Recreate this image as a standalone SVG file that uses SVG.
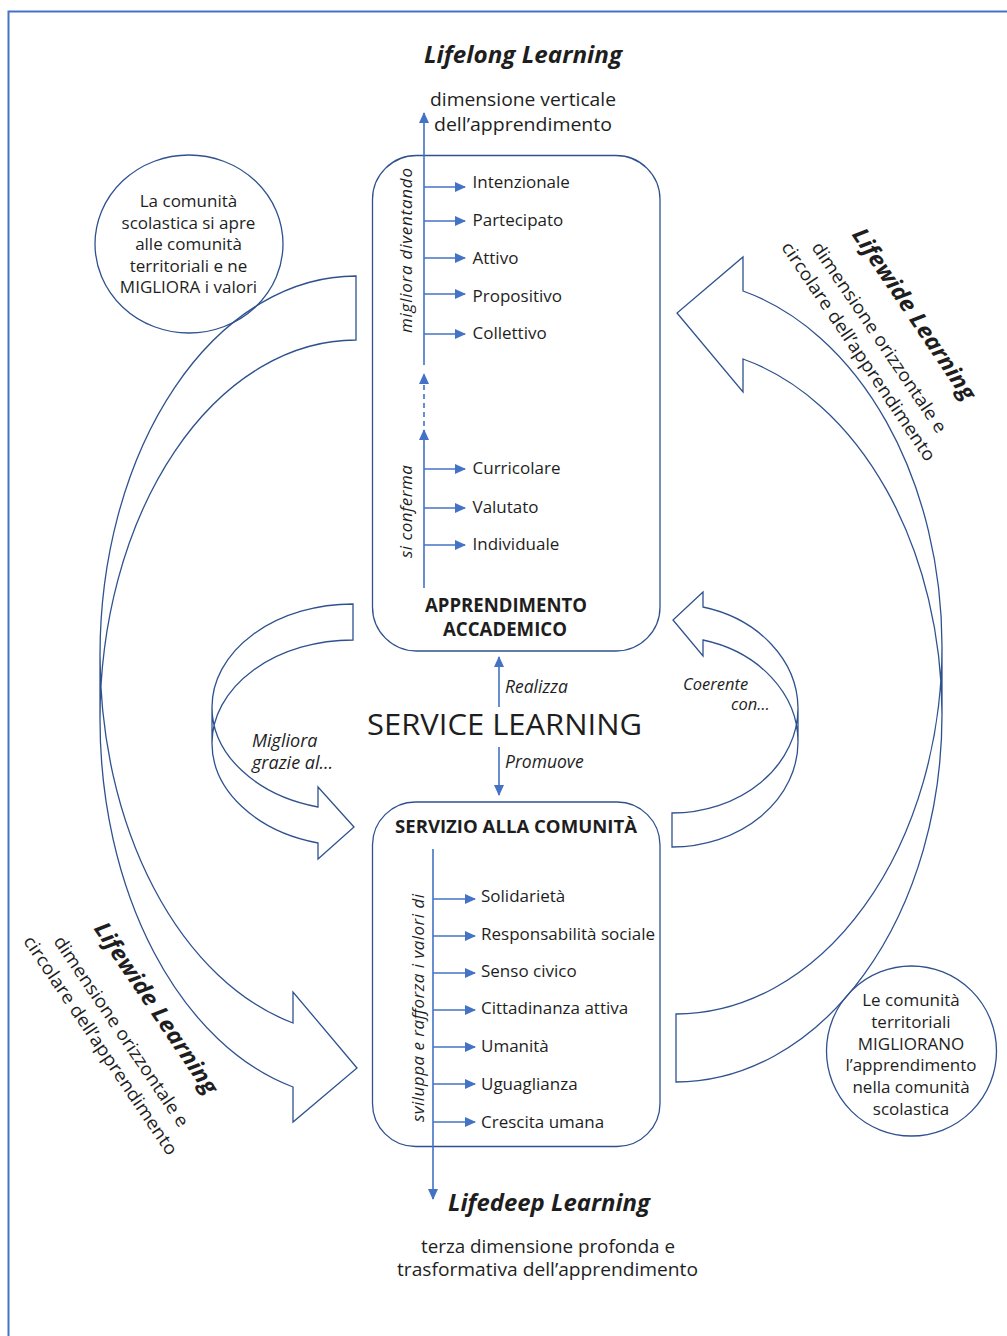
<svg xmlns="http://www.w3.org/2000/svg" width="1007" height="1336" viewBox="0 0 1007 1336">
<defs>
<style>
.t{font-family:"Open Sans","Liberation Sans",sans-serif;fill:#1e1e1e}
.it{font-style:italic}
.b{font-weight:bold}
.shape{fill:none;stroke:#2F528F;stroke-width:1.3}
.conn{fill:none;stroke:#4472C4;stroke-width:1.6}
.item{font-size:17px}
.ctr{text-anchor:middle}
</style>
<marker id="ah" markerWidth="12" markerHeight="10" refX="10" refY="5" orient="auto" markerUnits="userSpaceOnUse">
<path d="M0,0 L11,5 L0,10 z" fill="#4472C4"/>
</marker>
</defs>
<rect width="1007" height="1336" fill="#ffffff"/>
<rect id="frame" x="8.5" y="11.5" width="1010" height="1340" fill="none" stroke="#4472C4" stroke-width="2"/>

<g id="arrow-lifewide-left">
<path class="shape" d="M100,655.3 A256,379.3 0 0 0 293,1023 L293,992 L357,1068 L293,1122 L293,1087 A256,379.3 0 0 1 100,719.3 L100,655.3 A256,379.3 0 0 1 356,276 L356,340 A256,379.3 0 0 0 100,719.3"/>
</g>
<g id="arrow-lifewide-right">
<path class="shape" d="M942,714.6 A266,367.4 0 0 0 743,359 L743,392 L677,313 L743,257 L743,291 A266,367.4 0 0 1 942,646.6 L942,714.6 A266,367.4 0 0 1 676,1082 L676,1014 A266,367.4 0 0 0 942,646.6"/>
</g>
<g id="arrow-migliora">
<path class="shape" d="M212,707.1 A141,103.1 0 0 0 318,807 L318,787 L354,827 L318,859 L318,843 A141,103.1 0 0 1 212,743.1 L212,707.1 A141,103.1 0 0 1 353,604 L353,640 A141,103.1 0 0 0 212,743.1"/>
<text class="t it" font-size="18" x="252" y="747">Migliora</text>
<text class="t it" font-size="18" x="252" y="769">grazie al…</text>
</g>
<g id="arrow-coerente">
<path class="shape" d="M798,741.9 A126,105.1 0 0 0 703,640 L703,656 L673,620 L703,592 L703,607 A126,105.1 0 0 1 798,707.9 L798,741.9 A126,105.1 0 0 1 672,847 L672,813 A126,105.1 0 0 0 798,707.9"/>
<text class="t it" font-size="16.5" x="683" y="690">Coerente</text>
<text class="t it" font-size="16.5" x="731" y="710">con…</text>
</g>

<g id="circle-scuola">
<ellipse class="shape" cx="189" cy="244" rx="94" ry="89"/>
<text class="t ctr" font-size="17" x="188.5" y="207">La comunità</text>
<text class="t ctr" font-size="17" x="188.5" y="228.5">scolastica si apre</text>
<text class="t ctr" font-size="17" x="188.5" y="250">alle comunità</text>
<text class="t ctr" font-size="17" x="188.5" y="271.5">territoriali e ne</text>
<text class="t ctr" font-size="17" x="188.5" y="293">MIGLIORA i valori</text>
</g>
<g id="circle-territorio">
<circle class="shape" cx="911.5" cy="1051" r="85"/>
<text class="t ctr" font-size="17" x="911" y="1005.5">Le comunità</text>
<text class="t ctr" font-size="17" x="911" y="1027.5">territoriali</text>
<text class="t ctr" font-size="17" x="911" y="1049.5">MIGLIORANO</text>
<text class="t ctr" font-size="17" x="911" y="1071">l’apprendimento</text>
<text class="t ctr" font-size="17" x="911" y="1092.5">nella comunità</text>
<text class="t ctr" font-size="17" x="911" y="1114.5">scolastica</text>
</g>

<g id="lifelong">
<text class="t it b ctr" font-size="22.5" x="523" y="63" textLength="198" lengthAdjust="spacingAndGlyphs">Lifelong Learning</text>
<text class="t ctr" font-size="19" x="523" y="106" textLength="186" lengthAdjust="spacingAndGlyphs">dimensione verticale</text>
<text class="t ctr" font-size="19" x="523" y="131" textLength="178" lengthAdjust="spacingAndGlyphs">dell’apprendimento</text>
</g>
<g id="lifewide-right" transform="translate(880,337) rotate(56)">
<text class="t it b ctr" font-size="22.5" x="0" y="-42" dominant-baseline="central" textLength="202" lengthAdjust="spacingAndGlyphs">Lifewide Learning</text>
<text class="t ctr" font-size="18" x="0" y="0" dominant-baseline="central" textLength="226" lengthAdjust="spacingAndGlyphs">dimensione orizzontale e</text>
<text class="t ctr" font-size="18" x="0" y="25" dominant-baseline="central" textLength="260" lengthAdjust="spacingAndGlyphs">circolare dell’apprendimento</text>
</g>
<g id="lifewide-left" transform="translate(122,1031) rotate(56)">
<text class="t it b ctr" font-size="22.5" x="0" y="-42" dominant-baseline="central" textLength="202" lengthAdjust="spacingAndGlyphs">Lifewide Learning</text>
<text class="t ctr" font-size="18" x="0" y="0" dominant-baseline="central" textLength="226" lengthAdjust="spacingAndGlyphs">dimensione orizzontale e</text>
<text class="t ctr" font-size="18" x="0" y="25" dominant-baseline="central" textLength="260" lengthAdjust="spacingAndGlyphs">circolare dell’apprendimento</text>
</g>

<g id="apprendimento">
<rect class="shape" x="372.5" y="155.5" width="287.5" height="495.5" rx="44" ry="44"/>
<text class="t it" font-size="17" transform="translate(412,250.5) rotate(-90)" text-anchor="middle" textLength="165" lengthAdjust="spacing">migliora diventando</text>
<text class="t it" font-size="17" transform="translate(412,511.5) rotate(-90)" text-anchor="middle" textLength="93" lengthAdjust="spacing">si conferma</text>
<text class="t item" x="472.5" y="188">Intenzionale</text>
<text class="t item" x="472.5" y="226">Partecipato</text>
<text class="t item" x="472.5" y="264">Attivo</text>
<text class="t item" x="472.5" y="301.5">Propositivo</text>
<text class="t item" x="472.5" y="339">Collettivo</text>
<text class="t item" x="472.5" y="474">Curricolare</text>
<text class="t item" x="472.5" y="512.5">Valutato</text>
<text class="t item" x="472.5" y="550">Individuale</text>
<text class="t b ctr" font-size="19" x="506" y="611.5" textLength="162" lengthAdjust="spacingAndGlyphs">APPRENDIMENTO</text>
<text class="t b ctr" font-size="19" x="505" y="636" textLength="124" lengthAdjust="spacingAndGlyphs">ACCADEMICO</text>
</g>

<g id="service-learning">
<text class="t" font-size="30" x="367" y="735" textLength="275" lengthAdjust="spacingAndGlyphs">SERVICE LEARNING</text>
<text class="t it" font-size="17.5" x="505" y="693">Realizza</text>
<text class="t it" font-size="17.5" x="505" y="768">Promuove</text>
</g>

<g id="servizio">
<rect class="shape" x="372.5" y="802" width="287.5" height="344.5" rx="43" ry="43"/>
<text class="t b" font-size="18" x="395" y="833" textLength="242" lengthAdjust="spacingAndGlyphs">SERVIZIO ALLA COMUNITÀ</text>
<text class="t it" font-size="17" transform="translate(424,1008) rotate(-90)" text-anchor="middle" textLength="228" lengthAdjust="spacing">sviluppa e rafforza i valori di</text>
<text class="t item" x="481" y="901.5">Solidarietà</text>
<text class="t item" x="481" y="940">Responsabilità sociale</text>
<text class="t item" x="481" y="977">Senso civico</text>
<text class="t item" x="481" y="1014">Cittadinanza attiva</text>
<text class="t item" x="481" y="1052">Umanità</text>
<text class="t item" x="481" y="1090">Uguaglianza</text>
<text class="t item" x="481" y="1128">Crescita umana</text>
</g>

<g id="lifedeep">
<text class="t it b" font-size="22.5" x="448" y="1211" textLength="202" lengthAdjust="spacingAndGlyphs">Lifedeep Learning</text>
<text class="t ctr" font-size="18.5" x="548" y="1253" textLength="254" lengthAdjust="spacingAndGlyphs">terza dimensione profonda e</text>
<text class="t ctr" font-size="18.5" x="547.5" y="1276" textLength="301" lengthAdjust="spacingAndGlyphs">trasformativa dell’apprendimento</text>
</g>

<g id="connectors">
<line class="conn" x1="424" y1="588" x2="424" y2="430" marker-end="url(#ah)"/>
<line class="conn" x1="424" y1="426" x2="424" y2="374" stroke-dasharray="5,4" marker-end="url(#ah)"/>
<line class="conn" x1="424" y1="365" x2="424" y2="113" marker-end="url(#ah)"/>
<line class="conn" x1="424" y1="187" x2="465" y2="187" marker-end="url(#ah)"/>
<line class="conn" x1="424" y1="221" x2="465" y2="221" marker-end="url(#ah)"/>
<line class="conn" x1="424" y1="258" x2="465" y2="258" marker-end="url(#ah)"/>
<line class="conn" x1="424" y1="294" x2="465" y2="294" marker-end="url(#ah)"/>
<line class="conn" x1="424" y1="334" x2="465" y2="334" marker-end="url(#ah)"/>
<line class="conn" x1="424" y1="469" x2="465" y2="469" marker-end="url(#ah)"/>
<line class="conn" x1="424" y1="508" x2="465" y2="508" marker-end="url(#ah)"/>
<line class="conn" x1="424" y1="545" x2="465" y2="545" marker-end="url(#ah)"/>
<line class="conn" x1="499" y1="707" x2="499" y2="657" marker-end="url(#ah)"/>
<line class="conn" x1="499" y1="747" x2="499" y2="795" marker-end="url(#ah)"/>
<line class="conn" x1="433" y1="849" x2="433" y2="1199" marker-end="url(#ah)"/>
<line class="conn" x1="433" y1="899" x2="475" y2="899" marker-end="url(#ah)"/>
<line class="conn" x1="433" y1="936" x2="475" y2="936" marker-end="url(#ah)"/>
<line class="conn" x1="433" y1="973" x2="475" y2="973" marker-end="url(#ah)"/>
<line class="conn" x1="433" y1="1010" x2="475" y2="1010" marker-end="url(#ah)"/>
<line class="conn" x1="433" y1="1047" x2="475" y2="1047" marker-end="url(#ah)"/>
<line class="conn" x1="433" y1="1084" x2="475" y2="1084" marker-end="url(#ah)"/>
<line class="conn" x1="433" y1="1122" x2="475" y2="1122" marker-end="url(#ah)"/>
</g>
</svg>
